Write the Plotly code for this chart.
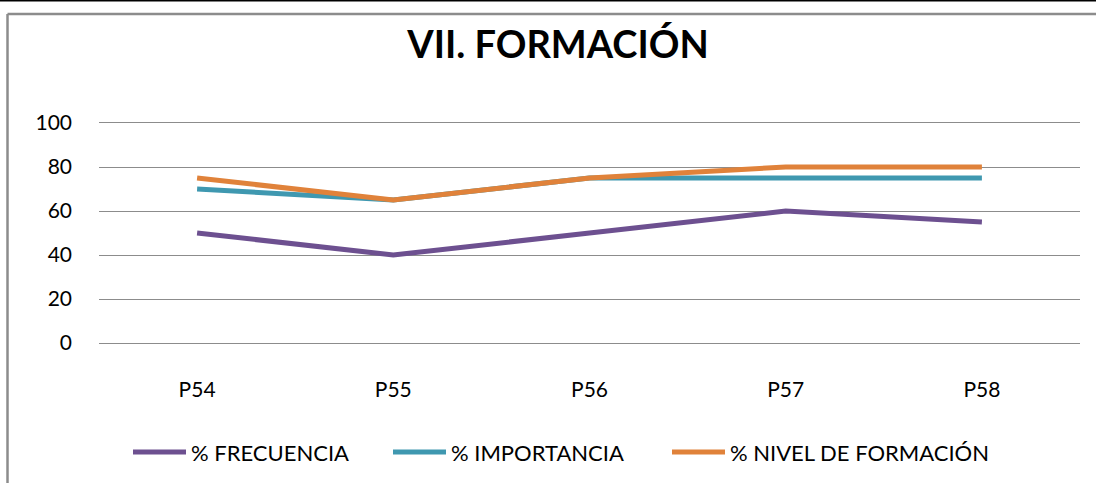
import plotly.graph_objects as go

categories = ["P54", "P55", "P56", "P57", "P58"]
frecuencia = [50, 40, 50, 60, 55]
importancia = [70, 65, 75, 75, 75]
nivel = [75, 65, 75, 80, 80]
series_names = ["% FRECUENCIA", "% IMPORTANCIA", "% NIVEL DE FORMACIÓN"]
colors = ["#6D5090", "#3F98B0", "#E0823A"]
y_ticks = [0, 20, 40, 60, 80, 100]

FONT = "Lato"
W, H = 1096, 483
L, R, T, B = 99, 1080, 123, 343
pw, ph = R - L, B - T

def px(x):
    return (x - L) / pw

def py(y):
    return (B - y) / ph

fig = go.Figure()
for name, vals, c in zip(series_names, [frecuencia, importancia, nivel], colors):
    fig.add_trace(go.Scatter(x=categories, y=vals, mode="lines", name=name,
                             line=dict(color=c, width=5), showlegend=False))

fig.update_layout(
    width=W, height=H,
    margin=dict(l=L, r=W - R, t=T, b=H - B, pad=0),
    plot_bgcolor="white", paper_bgcolor="white",
    font=dict(family=FONT, size=21, color="#000000"),
    title=dict(text="<b>VII. FORMACIÓN</b>", x=px(558), xanchor="center",
               y=1 - 45 / H, yanchor="middle", xref="paper",
               font=dict(size=38, family=FONT, color="#000000")),
    xaxis=dict(range=[-0.5, 4.5], showgrid=False, showline=True, mirror=True,
               linecolor="#8C8C8C", linewidth=1.3, zeroline=False, ticks="",
               ticklabelstandoff=28, tickfont=dict(size=21)),
    yaxis=dict(range=[0, 100], tickvals=y_ticks, showgrid=True, gridcolor="#8C8C8C",
               gridwidth=1.3, zeroline=False, showline=False, ticks="",
               ticklabelstandoff=26, tickfont=dict(size=21)),
)

# manual legend (line samples + labels)
legend_line_x = [(133, 186), (393, 446), (672, 725)]
legend_y = 452
for (x0, x1), name, c in zip(legend_line_x, series_names, colors):
    fig.add_shape(type="line", xref="paper", yref="paper", x0=px(x0), x1=px(x1),
                  y0=py(legend_y), y1=py(legend_y), line=dict(color=c, width=5))
    fig.add_annotation(xref="paper", yref="paper", x=px(x1 + 3), y=py(legend_y),
                       xanchor="left", yanchor="middle", showarrow=False, text=name,
                       font=dict(size=22, family=FONT, color="#000000"))

# chart borders
fig.add_shape(type="line", xref="paper", yref="paper", x0=px(0), x1=px(W), y0=py(0.5), y1=py(0.5),
              line=dict(color="#000000", width=2))
fig.add_shape(type="line", xref="paper", yref="paper", x0=px(7.5), x1=px(W), y0=py(14), y1=py(14),
              line=dict(color="#8C8C8C", width=2.5))
fig.add_shape(type="line", xref="paper", yref="paper", x0=px(7.5), x1=px(7.5), y0=py(14), y1=py(H + 5),
              line=dict(color="#8C8C8C", width=2.5))

fig.write_html("out.html", config={"displayModeBar": False},
               post_script="document.body.style.margin='0';")
